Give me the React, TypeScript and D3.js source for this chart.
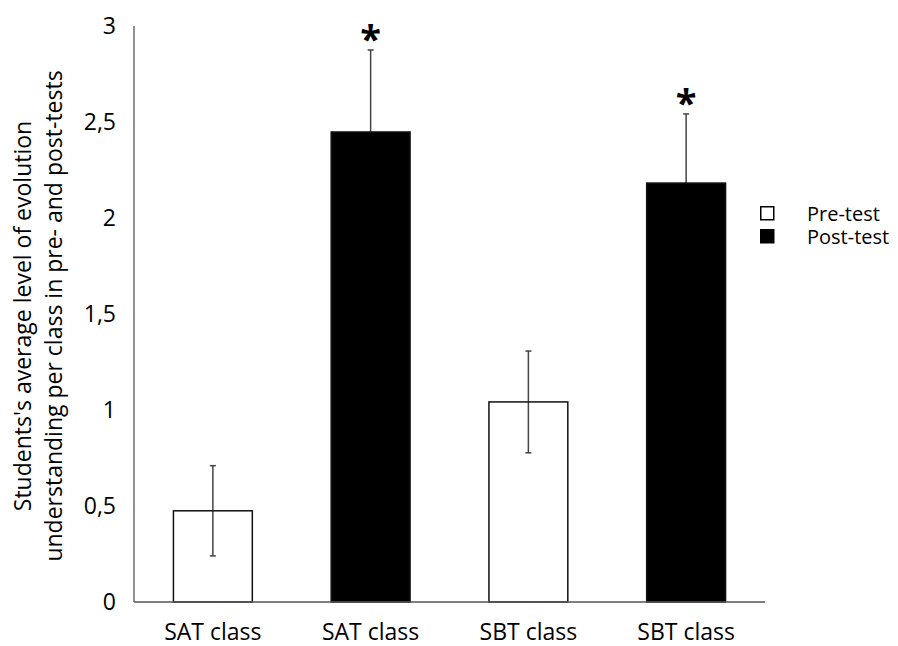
import React from 'react';
import * as d3 from 'd3';

// bars in drawing order: class / test pairs
const categories = ['SAT class', 'SAT class', 'SBT class', 'SBT class'];
const series = ['Pre-test', 'Post-test', 'Pre-test', 'Post-test'];
const means = [0.475, 2.448, 1.042, 2.182];
const errors = [0.235, 0.427, 0.265, 0.36];
const significant = [false, true, false, true];
const yTicks = [0, 0.5, 1, 1.5, 2, 2.5, 3];
const legendItems = ['Pre-test', 'Post-test'];

const width = 898;
const height = 646;
const margin = { top: 26, right: 133, bottom: 44, left: 134 };
const font = '"Open Sans", "Noto Sans", sans-serif';

const App: React.FC = () => {
  const x = d3
    .scaleBand<number>()
    .domain(categories.map((_, i) => i))
    .range([margin.left, width - margin.right])
    .paddingInner(0.5)
    .paddingOuter(0.25);

  const y = d3
    .scaleLinear()
    .domain([0, 3])
    .range([height - margin.bottom, margin.top]);

  const fmt = (v: number) => String(v).replace('.', ',');
  // pre-test bars are hollow, so the error bar shows through them
  const fill = (s: string) => (s === 'Post-test' ? '#000' : 'none');
  const cx = (i: number) => (x(i) as number) + x.bandwidth() / 2;

  return (
    <div style={{ position: 'fixed', left: 0, top: 0 }}>
      <svg width={width} height={height} style={{ display: 'block', background: '#fff' }}>
        {/* error bars (behind the bars) */}
        {means.map((m, i) => (
          <g key={'e' + i} stroke="#444" strokeWidth={1.5}>
            <line x1={cx(i)} x2={cx(i)} y1={y(m - errors[i])} y2={y(m + errors[i])} />
            <line x1={cx(i) - 3} x2={cx(i) + 3} y1={y(m + errors[i])} y2={y(m + errors[i])} />
            <line x1={cx(i) - 3} x2={cx(i) + 3} y1={y(m - errors[i])} y2={y(m - errors[i])} />
          </g>
        ))}

        {/* bars */}
        {means.map((m, i) => (
          <rect
            key={'b' + i}
            x={x(i)}
            y={y(m)}
            width={x.bandwidth()}
            height={y(0) - y(m)}
            fill={fill(series[i])}
            stroke="#111"
            strokeWidth={1.5}
          />
        ))}

        {/* axes */}
        <line x1={margin.left} x2={margin.left} y1={y(3)} y2={y(0)} stroke="#555" strokeWidth={1.3} />
        <line x1={margin.left} x2={width - margin.right} y1={y(0)} y2={y(0)} stroke="#555" strokeWidth={1.3} />

        {/* significance stars */}
        {means.map((m, i) =>
          significant[i] ? (
            <text
              key={'s' + i}
              x={cx(i)}
              y={y(m + errors[i]) + 3}
              textAnchor="middle"
              fontFamily={font}
              fontWeight="bold"
              fontSize={38}
              fill="#000"
            >
              *
            </text>
          ) : null
        )}

        {/* y tick labels */}
        {yTicks.map((t) => (
          <text
            key={'t' + t}
            x={116}
            y={y(t)}
            dy="0.35em"
            textAnchor="end"
            fontFamily={font}
            fontSize={23}
            fill="#000"
          >
            {fmt(t)}
          </text>
        ))}

        {/* category labels */}
        {categories.map((c, i) => (
          <text
            key={'c' + i}
            x={cx(i)}
            y={640}
            textAnchor="middle"
            fontFamily={font}
            fontSize={23}
            fill="#000"
          >
            {c}
          </text>
        ))}

        {/* y axis title */}
        <g transform="translate(0,316) rotate(-90)" fontFamily={font} fontSize={23} fill="#000">
          <text x={0} y={31} textAnchor="middle">
            Students's average level of evolution
          </text>
          <text x={0} y={62} textAnchor="middle">
            understanding per class in pre- and post-tests
          </text>
        </g>

        {/* legend */}
        {legendItems.map((s, i) => (
          <g key={'l' + s} transform={`translate(760,${206 + i * 23})`}>
            <rect
              x={0.75}
              y={0.75}
              width={13}
              height={13}
              fill={s === 'Post-test' ? '#000' : '#fff'}
              stroke="#000"
              strokeWidth={1.5}
            />
            <text x={47} y={15} fontFamily={font} fontSize={20} fill="#000">
              {s}
            </text>
          </g>
        ))}
      </svg>
    </div>
  );
};

export default App;
